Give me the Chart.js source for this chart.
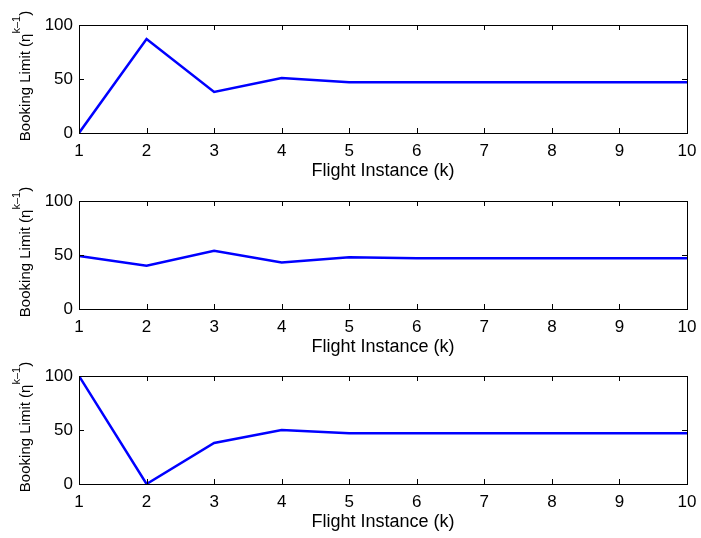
<!DOCTYPE html>
<html>
<head>
<meta charset="utf-8">
<script src="https://cdn.jsdelivr.net/npm/chart.js@4/dist/chart.umd.min.js"></script>
<style>
  html, body { margin: 0; padding: 0; background: #fff; }
  body { width: 701px; height: 538px; position: relative; overflow: hidden; }
  canvas { position: absolute; left: 0; }
</style>
</head>
<body>
<canvas id="c1" width="701" height="180" style="top:5px"></canvas>
<canvas id="c2" width="701" height="180" style="top:181px"></canvas>
<canvas id="c3" width="701" height="180" style="top:356px"></canvas>
<script>
const flights = [1, 2, 3, 4, 5, 6, 7, 8, 9, 10];
const limitA = [0, 87, 38, 51, 47, 47, 47, 47, 47, 47];
const limitB = [49, 40, 54, 43, 48, 47, 47, 47, 47, 47];
const limitC = [100, 0, 38, 50, 47, 47, 47, 47, 47, 47];
const yTicks = [0, 50, 100];

const FONT = 'Liberation Sans, Arial, Helvetica, sans-serif';

// matlab-ish box with inward tick marks on all four sides
const boxPlugin = {
  id: 'box',
  afterDraw(chart) {
    const ctx = chart.ctx;
    const a = chart.chartArea;
    const xs = chart.scales.x, ys = chart.scales.y;
    const len = 5;
    ctx.save();
    ctx.strokeStyle = '#000';
    ctx.lineWidth = 1;
    ctx.beginPath();
    flights.forEach(v => {
      const px = Math.round(xs.getPixelForValue(v)) + 0.5;
      ctx.moveTo(px, a.bottom); ctx.lineTo(px, a.bottom - len);
      ctx.moveTo(px, a.top); ctx.lineTo(px, a.top + len);
    });
    yTicks.forEach(v => {
      const py = Math.round(ys.getPixelForValue(v)) + 0.5;
      ctx.moveTo(a.left, py); ctx.lineTo(a.left + len, py);
      ctx.moveTo(a.right, py); ctx.lineTo(a.right - len, py);
    });
    ctx.stroke();
    ctx.strokeRect(Math.round(a.left) + 0.5, Math.round(a.top) + 0.5,
      Math.round(a.right - a.left), Math.round(a.bottom - a.top));

    // rotated y label with superscript exponent
    const main = 'Booking Limit (\u03b7';
    const sup = 'k\u20131';
    const tail = ')';
    const f1 = '15px ' + FONT, f2 = '11px ' + FONT;
    ctx.font = f1;
    const w1 = ctx.measureText(main).width;
    const w3 = ctx.measureText(tail).width;
    ctx.font = f2;
    const w2 = ctx.measureText(sup).width;
    const total = w1 + w2 + w3;
    ctx.translate(30, (a.top + a.bottom) / 2 - 3);
    ctx.rotate(-Math.PI / 2);
    ctx.fillStyle = '#000';
    ctx.textBaseline = 'alphabetic';
    ctx.textAlign = 'left';
    const x0 = -total / 2;
    ctx.font = f1;
    ctx.fillText(main, x0, 0);
    ctx.font = f2;
    ctx.fillText(sup, x0 + w1, -10);
    ctx.font = f1;
    ctx.fillText(tail, x0 + w1 + w2, 0);
    ctx.restore();
  }
};

function makeChart(id, values) {
  return new Chart(document.getElementById(id), {
    type: 'line',
    data: {
      datasets: [{
        data: flights.map((f, i) => ({ x: f, y: values[i] })),
        borderColor: '#0000ff',
        borderWidth: 2.5,
        pointRadius: 0,
        tension: 0,
        fill: false
      }]
    },
    options: {
      responsive: false,
      animation: false,
      devicePixelRatio: 1,
      layout: { padding: { top: 20, right: 14, left: 0, bottom: 0 } },
      plugins: { legend: { display: false }, tooltip: { enabled: false } },
      scales: {
        x: {
          type: 'linear',
          min: 1, max: 10,
          afterBuildTicks: s => { s.ticks = flights.map(v => ({ value: v })); },
          afterFit: s => { s.height = 52; s.paddingLeft = 0; s.paddingRight = 0; },
          grid: { display: false, drawTicks: false },
          border: { display: false },
          ticks: { color: '#000', padding: 8, maxRotation: 0, font: { family: FONT, size: 17 } },
          title: {
            display: true, text: 'Flight Instance (k)', color: '#000',
            font: { family: FONT, size: 18 }, padding: { top: 0, bottom: 3 }
          }
        },
        y: {
          min: 0, max: 100,
          afterBuildTicks: s => { s.ticks = yTicks.map(v => ({ value: v })); },
          afterFit: s => { s.width = 79; s.paddingTop = 0; s.paddingBottom = 0; },
          grid: { display: false, drawTicks: false },
          border: { display: false },
          ticks: { color: '#000', padding: 6, font: { family: FONT, size: 17 } }
        }
      }
    },
    plugins: [boxPlugin]
  });
}

makeChart('c1', limitA);
makeChart('c2', limitB);
makeChart('c3', limitC);
</script>
</body>
</html>
